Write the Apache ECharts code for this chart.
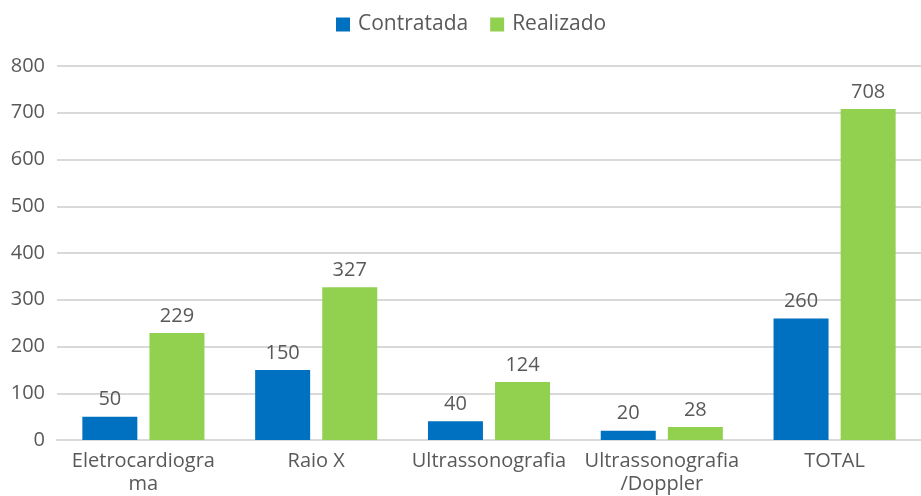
<!DOCTYPE html>
<html><head><meta charset="utf-8">
<script src="https://cdn.jsdelivr.net/npm/echarts@6/dist/echarts.min.js"></script>
<style>html,body{margin:0;padding:0;background:#fff}#c{width:921px;height:496px}</style>
</head><body><div id="c"></div>
<script>
const categories = ['Eletrocardiogra\nma', 'Raio X', 'Ultrassonografia', 'Ultrassonografia\n/Doppler', 'TOTAL'];
const contratada = [50, 150, 40, 20, 260];
const realizado = [229, 327, 124, 28, 708];
const yTicks = {min: 0, max: 800, interval: 100};

const font = '"Open Sans", "Noto Sans", sans-serif';
const txt = '#595959';
const fs = 20;
const chart = echarts.init(document.getElementById('c'), null, {renderer: 'canvas'});
chart.setOption({
  animation: false,
  textStyle: {fontFamily: font},
  legend: {
    top: 14, left: 336, itemWidth: 14, itemHeight: 14, itemGap: 22, padding: 0,
    icon: 'rect',
    textStyle: {color: txt, fontSize: 21, fontFamily: font, padding: [0, 0, 0, 3]}
  },
  grid: {left: 57, right: 0, top: 66, bottom: 53, containLabel: false},
  xAxis: {
    type: 'category', data: categories,
    axisLine: {lineStyle: {color: '#d9d9d9', width: 2}},
    axisTick: {show: false},
    axisLabel: {color: txt, fontSize: fs, fontFamily: font, lineHeight: 23, margin: 10, interval: 0}
  },
  yAxis: {
    type: 'value', min: yTicks.min, max: yTicks.max, interval: yTicks.interval,
    axisLine: {show: false}, axisTick: {show: false},
    splitLine: {lineStyle: {color: '#d9d9d9', width: 2}},
    axisLabel: {color: txt, fontSize: fs, fontFamily: font, margin: 12, align: 'right'}
  },
  series: [
    {name: 'Contratada', type: 'bar', data: contratada, barWidth: 55, barGap: '22%',
     itemStyle: {color: '#0070C0'},
     label: {show: true, position: 'top', distance: 7, color: txt, fontSize: fs, fontFamily: font}},
    {name: 'Realizado', type: 'bar', data: realizado, barWidth: 55,
     itemStyle: {color: '#92D050'},
     label: {show: true, position: 'top', distance: 7, color: txt, fontSize: fs, fontFamily: font}}
  ]
});
</script></body></html>
